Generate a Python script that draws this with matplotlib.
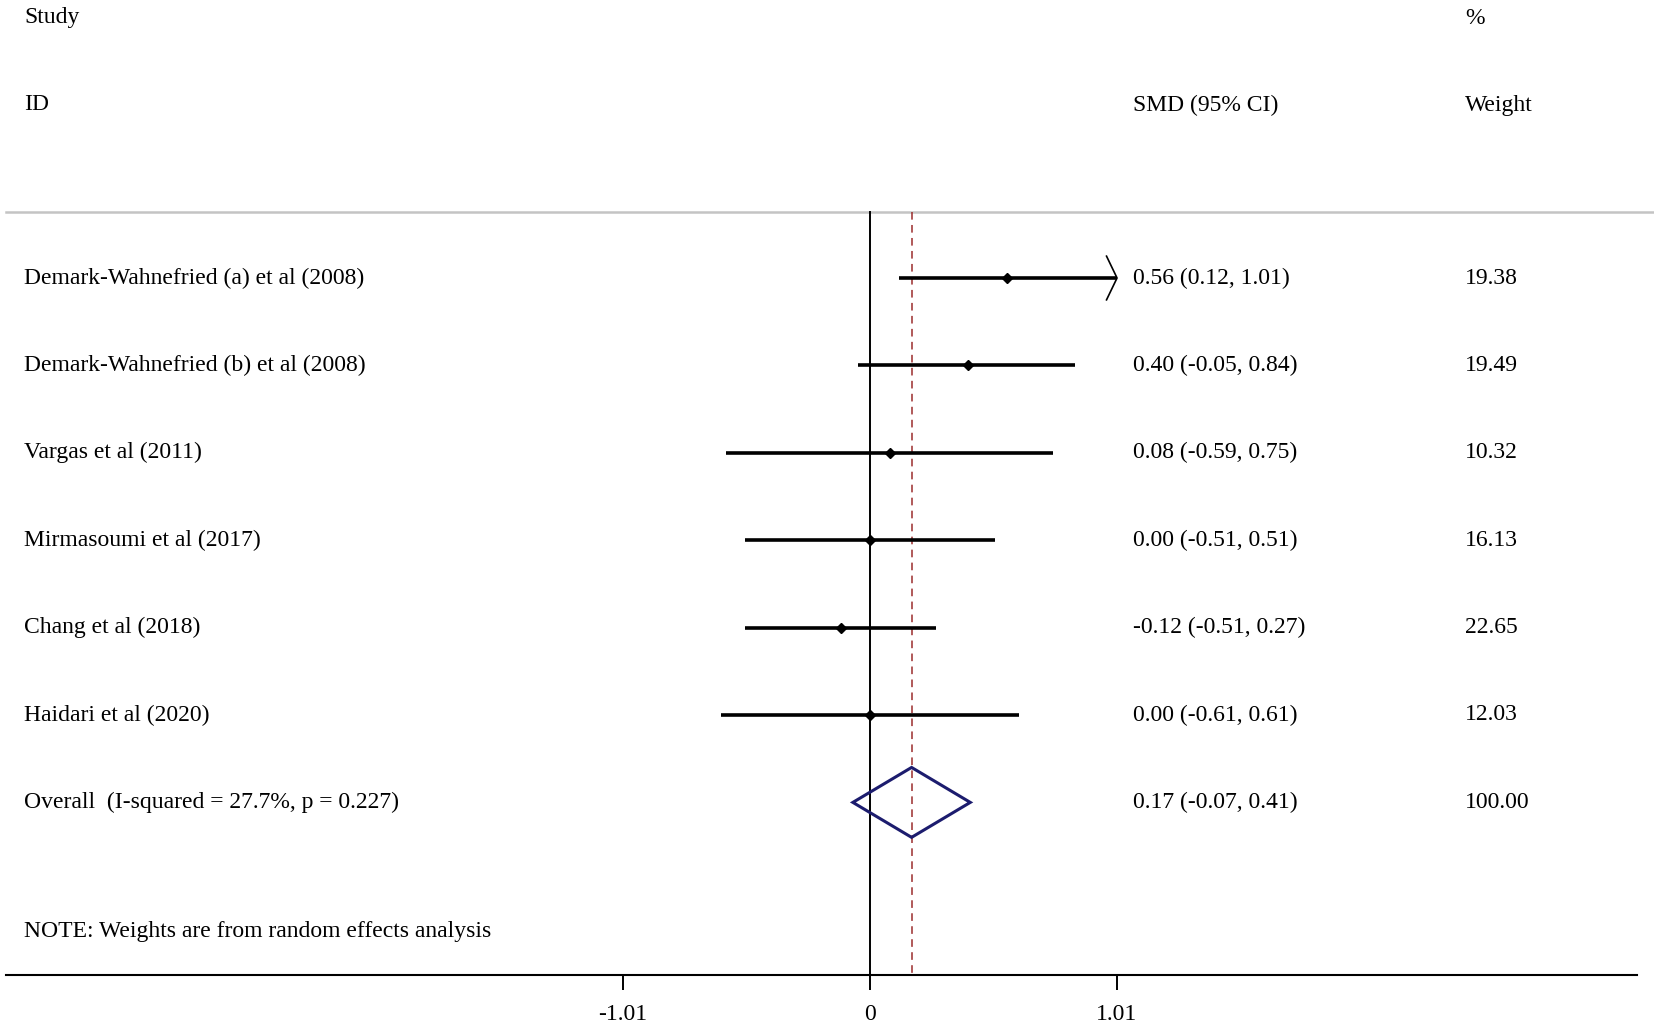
import matplotlib
matplotlib.use("Agg")
import matplotlib.pyplot as plt
from matplotlib.patches import Polygon

# ---- data ----
studies = ["Demark-Wahnefried (a) et al (2008)",
           "Demark-Wahnefried (b) et al (2008)",
           "Vargas et al (2011)",
           "Mirmasoumi et al (2017)",
           "Chang et al (2018)",
           "Haidari et al (2020)"]
smd = [0.56, 0.40, 0.08, 0.00, -0.12, 0.00]
ci_low = [0.12, -0.05, -0.59, -0.51, -0.51, -0.61]
ci_high = [1.01, 0.84, 0.75, 0.51, 0.27, 0.61]
weights = ["19.38", "19.49", "10.32", "16.13", "22.65", "12.03"]
ci_text = ["0.56 (0.12, 1.01)", "0.40 (-0.05, 0.84)", "0.08 (-0.59, 0.75)",
           "0.00 (-0.51, 0.51)", "-0.12 (-0.51, 0.27)", "0.00 (-0.61, 0.61)"]
overall_label = "Overall  (I-squared = 27.7%, p = 0.227)"
overall_est, overall_lo, overall_hi = 0.17, -0.07, 0.41
overall_text = "0.17 (-0.07, 0.41)"
overall_weight = "100.00"
tick_vals = [-1.01, 0, 1.01]
tick_labels = ["-1.01", "0", "1.01"]
xmax_plot = 1.01  # right clip of the plot -> arrow

W, H = 1654, 1029
fig = plt.figure(figsize=(W / 100, H / 100), dpi=100)
plt.rcParams['font.family'] = ['Liberation Serif', 'DejaVu Serif']

# axes: left 6px, right 1637px, bottom 975px, top 0
ax = fig.add_axes([6 / W, 1 - 975 / H, (1637 - 6) / W, 975 / H])
px_per_unit = 244.6
x0 = 870
ax.set_xlim((6 - x0) / px_per_unit, (1637 - x0) / px_per_unit)
row0, row_h = 278, 87.4
ax.set_ylim((975 - row0) / row_h, (0 - row0) / row_h)

for s in ["top", "left", "right"]:
    ax.spines[s].set_visible(False)
ax.spines["bottom"].set_linewidth(1.5)
ax.set_yticks([])
ax.set_xticks(tick_vals)
ax.set_xticklabels(tick_labels)
ax.tick_params(axis="x", direction="out", length=11, width=1.4, pad=10,
               labelsize=17)
ax.patch.set_visible(False)

fs = 17
x_lab = (24 - x0) / px_per_unit
x_ci = (1133 - x0) / px_per_unit
x_w = (1465 - x0) / px_per_unit
y_study = (18 - row0) / row_h
y_id = (105 - row0) / row_h
y_sep = (211.5 - row0) / row_h
y_note = (932 - row0) / row_h
y_axis = (975 - row0) / row_h

# headers
ax.text(x_lab, y_study, "Study", fontsize=fs, va="center", ha="left")
ax.text(x_lab, y_id, "ID", fontsize=fs, va="center", ha="left")
ax.text(x_ci, y_id, "SMD (95% CI)", fontsize=fs, va="center", ha="left")
ax.text(x_w, y_study, "%", fontsize=fs, va="center", ha="left")
ax.text(x_w, y_id, "Weight", fontsize=fs, va="center", ha="left")

# separator line
ax.axhline(y_sep, xmin=0, xmax=1.02, color="#c4c4c4", lw=1.8, clip_on=False)

# zero line and overall dashed line
ax.plot([0, 0], [y_sep, y_axis], color="black", lw=1.4, zorder=2)
ax.plot([overall_est, overall_est], [y_sep, y_axis], color="#9b2c2c", lw=1.1,
        dashes=(5, 3.5), zorder=2)

# studies
for i, (name, e, lo, hi, ct, w) in enumerate(zip(studies, smd, ci_low, ci_high,
                                                  ci_text, weights)):
    y = i
    hi_draw = min(hi, xmax_plot)
    ax.plot([lo, hi_draw], [y, y], color="black", lw=2.6, solid_capstyle="butt",
            zorder=3)
    ax.plot([e], [y], marker="D", ms=5.5, color="black", zorder=4)
    if hi >= xmax_plot:
        ax.plot([hi_draw - 0.043, hi_draw, hi_draw - 0.043],
                [y - 0.25, y, y + 0.25], color="black", lw=1.2, zorder=3)
    ax.text(x_lab, y, name, fontsize=fs, va="center", ha="left")
    ax.text(x_ci, y, ct, fontsize=fs, va="center", ha="left")
    ax.text(x_w, y, w, fontsize=fs, va="center", ha="left")

# overall
yo = len(studies)
hh = 0.4
diamond = Polygon([[overall_lo, yo], [overall_est, yo - hh],
                   [overall_hi, yo], [overall_est, yo + hh]],
                  closed=True, fill=False, edgecolor="#1c1c6e", lw=2.2, zorder=4)
ax.add_patch(diamond)
ax.text(x_lab, yo, overall_label, fontsize=fs, va="center", ha="left")
ax.text(x_ci, yo, overall_text, fontsize=fs, va="center", ha="left")
ax.text(x_w, yo, overall_weight, fontsize=fs, va="center", ha="left")

ax.text(x_lab, y_note, "NOTE: Weights are from random effects analysis",
        fontsize=fs, va="center", ha="left")

fig.savefig("out.png", dpi=100, facecolor="white")
